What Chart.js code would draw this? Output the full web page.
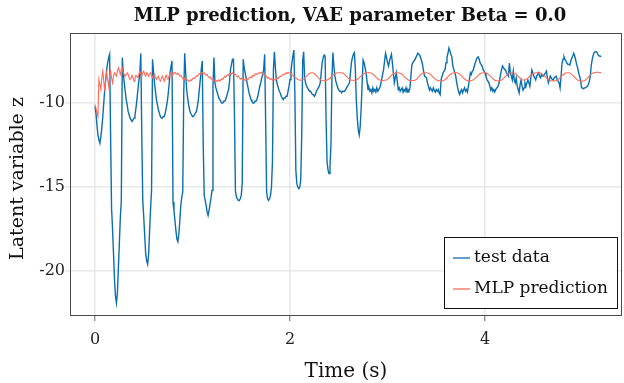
<!DOCTYPE html>
<html>
<head>
<meta charset="utf-8">
<script src="https://cdn.jsdelivr.net/npm/chart.js@4"></script>
<style>
html,body{margin:0;padding:0;background:#fff;}
#wrap{width:624px;height:383px;position:relative;}
</style>
</head>
<body>
<div id="wrap"><canvas id="c" width="624" height="383"></canvas></div>
<script>
// ---- data (sampled every 0.01 s) ----
const dt = 0.01;
const seriesLabels = ["test data", "MLP prediction"];
const xTicks = [0, 2, 4];
const yTicks = [-20, -15, -10];
const titleText = "MLP prediction, VAE parameter Beta = 0.0";
const xLabel = "Time (s)";
const yLabel = "Latent variable z";

const testData = [
-10.2,-10.6,-11.3,-11.9,-12.2,-12.4,-12.0,-11.5,-10.8,-10.0,
-9.2,-8.6,-8.0,-7.6,-7.3,-7.1,-12.0,-16.3,-17.5,-19.0,
-20.5,-21.5,-21.9,-21.3,-19.8,-18.3,-16.8,-15.8,-7.3,-8.2,
-8.8,-9.3,-9.8,-10.1,-10.5,-10.7,-10.9,-11.0,-11.1,-11.0,
-10.9,-10.7,-10.3,-9.8,-9.2,-8.7,-8.2,-7.05,-12.0,-15.8,
-16.8,-17.9,-19.0,-19.4,-19.6,-19.0,-17.6,-16.3,-15.2,-7.4,
-8.1,-8.8,-9.3,-9.8,-10.1,-10.4,-10.6,-10.8,-10.9,-10.9,
-10.8,-10.8,-10.6,-10.3,-10.0,-9.5,-8.9,-8.2,-7.8,-7.5,
-15.9,-16.4,-17.0,-17.6,-18.1,-18.25,-17.8,-17.0,-16.1,-15.6,
-15.3,-9.5,-7.04,-8.2,-9.2,-9.7,-10.1,-10.4,-10.6,-10.7,
-10.8,-10.8,-10.7,-10.6,-10.5,-10.2,-9.8,-9.2,-8.6,-8.0,
-7.5,-12.5,-15.5,-15.8,-16.1,-16.5,-16.7,-16.4,-16.0,-15.65,
-15.2,-9.0,-7.3,-8.8,-9.1,-9.3,-9.5,-9.7,-9.8,-9.9,
-10.0,-10.0,-9.9,-9.9,-9.8,-9.6,-9.4,-9.2,-8.7,-8.0,
-7.7,-7.4,-7.4,-10.5,-15.2,-15.6,-15.7,-15.8,-15.8,-15.7,
-15.5,-14.8,-7.4,-7.9,-8.2,-8.5,-8.8,-9.1,-9.4,-9.6,
-9.8,-9.9,-10.0,-10.0,-9.9,-9.9,-9.8,-9.6,-9.3,-9.0,
-8.8,-8.5,-8.3,-8.0,-7.1,-11.0,-15.3,-15.7,-15.8,-15.7,
-15.5,-15.0,-13.5,-8.0,-6.95,-7.9,-8.6,-8.9,-9.1,-9.3,
-9.4,-9.6,-9.7,-9.8,-9.7,-9.7,-9.6,-9.6,-9.3,-9.0,
-8.6,-8.1,-7.6,-7.2,-6.85,-9.5,-14.0,-14.8,-15.0,-15.1,
-15.0,-14.6,-12.0,-7.5,-6.95,-8.5,-8.8,-9.0,-9.1,-9.2,
-9.3,-9.3,-9.4,-9.5,-9.5,-9.6,-9.5,-9.3,-9.2,-9.1,
-9.0,-8.8,-8.2,-7.6,-7.3,-7.14,-7.2,-11.0,-13.5,-14.0,
-14.2,-13.8,-12.5,-8.5,-7.0,-7.8,-8.4,-8.7,-8.9,-9.1,
-9.2,-9.3,-9.3,-9.4,-9.3,-9.3,-9.3,-9.2,-9.1,-9.0,
-8.9,-8.8,-8.2,-7.6,-7.3,-7.1,-7.0,-8.0,-9.8,-10.9,
-11.6,-11.9,-11.4,-10.3,-8.8,-7.44,-7.6,-7.9,-8.2,-8.7,
-9.2,-9.1,-9.3,-9.2,-9.4,-9.1,-9.3,-9.2,-9.35,-9.1,
-9.3,-9.2,-9.1,-8.9,-8.6,-8.3,-8.0,-7.5,-7.04,-7.3,
-7.6,-7.8,-7.5,-7.3,-7.1,-7.6,-8.2,-8.8,-8.5,-8.2,
-8.7,-9.2,-9.1,-9.3,-9.2,-9.1,-9.35,-9.2,-9.3,-9.1,
-9.35,-9.2,-9.3,-9.1,-8.4,-7.74,-7.6,-7.5,-7.44,-7.3,
-7.2,-7.04,-7.1,-7.14,-7.3,-7.5,-7.74,-8.1,-8.4,-8.45,
-8.5,-8.8,-9.0,-9.23,-9.1,-9.2,-9.3,-9.1,-9.25,-9.35,
-9.2,-9.3,-9.2,-9.4,-9.5,-8.6,-8.4,-8.2,-8.1,-8.0,
-7.6,-7.3,-7.04,-6.73,-6.9,-7.1,-7.25,-7.8,-8.0,-8.2,
-8.4,-8.8,-9.1,-9.35,-9.5,-9.3,-9.2,-9.4,-9.23,-9.1,
-9.3,-9.2,-9.35,-9.0,-8.6,-8.2,-8.3,-8.1,-8.04,-7.8,
-7.6,-7.44,-7.3,-7.25,-7.4,-7.62,-7.7,-7.8,-8.0,-8.1,
-8.2,-8.4,-8.6,-8.7,-8.8,-9.0,-9.23,-9.1,-9.3,-9.2,
-9.35,-9.2,-9.1,-9.05,-8.9,-8.63,-8.3,-8.0,-7.8,-7.9,
-8.0,-8.04,-8.2,-8.3,-8.4,-7.62,-8.2,-8.4,-8.63,-8.1,
-8.63,-8.8,-8.5,-9.0,-9.2,-9.4,-8.9,-8.63,-9.0,-9.23,
-9.1,-8.8,-9.0,-8.8,-8.63,-8.8,-9.0,-8.5,-8.04,-8.2,
-8.4,-8.5,-8.63,-8.4,-8.3,-8.2,-8.4,-8.5,-8.3,-8.4,
-8.4,-8.3,-8.2,-8.1,-8.5,-8.8,-8.6,-8.4,-8.5,-8.6,
-8.63,-8.5,-8.45,-8.4,-8.6,-8.7,-8.8,-9.1,-8.4,-7.62,
-7.4,-7.25,-7.4,-7.5,-7.62,-7.7,-7.7,-7.74,-7.5,-7.32,
-7.2,-7.04,-7.2,-7.44,-7.7,-7.9,-8.2,-8.4,-8.63,-9.1,
-9.1,-9.15,-9.1,-9.1,-9.05,-9.0,-8.9,-8.7,-8.4,-7.74,
-7.4,-7.14,-7.0,-6.95,-6.95,-7.0,-7.14,-7.2,-7.2,-7.25
];

const mlpPrediction = [
-10.1,-10.3,-10.6,-10.8,-8.6,-8.9,-9.2,-8.5,-8.1,-8.7,
-9.3,-8.6,-8.2,-8.6,-9.0,-8.4,-8.1,-8.5,-8.8,-8.4,
-8.2,-8.3,-8.4,-8.1,-7.9,-8.1,-8.3,-8.0,-7.9,-8.2,
-8.3,-8.4,-8.3,-8.2,-8.3,-8.5,-8.6,-8.5,-8.35,-8.5,
-8.7,-8.55,-8.35,-8.45,-8.5,-8.3,-8.1,-8.25,-8.4,-8.2,
-8.1,-8.3,-8.4,-8.2,-8.25,-8.4,-8.3,-8.2,-8.35,-8.5,
-8.4,-8.3,-8.45,-8.6,-8.5,-8.4,-8.6,-8.7,-8.55,-8.4,
-8.55,-8.7,-8.5,-8.35,-8.5,-8.6,-8.4,-8.2,-8.3,-8.4,
-8.25,-8.2,-8.18,-8.25,-8.3,-8.22,-8.3,-8.4,-8.35,-8.45,
-8.55,-8.48,-8.55,-8.65,-8.58,-8.62,-8.7,-8.7,-8.62,-8.66,
-8.58,-8.5,-8.55,-8.45,-8.38,-8.42,-8.32,-8.25,-8.3,-8.2,
-8.18,-8.25,-8.2,-8.3,-8.35,-8.3,-8.42,-8.5,-8.45,-8.55,
-8.62,-8.58,-8.65,-8.7,-8.65,-8.72,-8.68,-8.62,-8.7,-8.62,
-8.55,-8.6,-8.5,-8.42,-8.48,-8.38,-8.3,-8.35,-8.25,-8.22,
-8.28,-8.2,-8.25,-8.3,-8.28,-8.38,-8.45,-8.4,-8.5,-8.58,
-8.52,-8.6,-8.65,-8.6,-8.66,-8.62,-8.55,-8.6,-8.5,-8.45,
-8.5,-8.4,-8.35,-8.4,-8.3,-8.25,-8.3,-8.22,-8.2,-8.25,
-8.18,-8.2,-8.27,-8.3,-8.38,-8.35,-8.45,-8.52,-8.48,-8.58,
-8.6,-8.55,-8.65,-8.63,-8.6,-8.65,-8.55,-8.5,-8.55,-8.45,
-8.4,-8.42,-8.32,-8.28,-8.32,-8.25,-8.2,-8.24,-8.18,-8.22,
-8.2,-8.26,-8.3,-8.36,-8.42,-8.46,-8.5,-8.56,-8.6,-8.62,
-8.64,-8.65,-8.65,-8.62,-8.58,-8.52,-8.46,-8.4,-8.34,-8.28,
-8.24,-8.21,-8.2,-8.2,-8.22,-8.26,-8.31,-8.37,-8.43,-8.5,
-8.55,-8.6,-8.64,-8.66,-8.68,-8.68,-8.67,-8.66,-8.63,-8.6,
-8.56,-8.51,-8.46,-8.4,-8.35,-8.3,-8.26,-8.23,-8.21,-8.2,
-8.2,-8.2,-8.2,-8.2,-8.22,-8.25,-8.3,-8.36,-8.42,-8.48,
-8.53,-8.58,-8.62,-8.64,-8.65,-8.66,-8.65,-8.65,-8.63,-8.6,
-8.56,-8.51,-8.45,-8.39,-8.33,-8.28,-8.24,-8.21,-8.2,-8.2,
-8.2,-8.19,-8.2,-8.21,-8.24,-8.28,-8.33,-8.39,-8.45,-8.51,
-8.56,-8.6,-8.63,-8.65,-8.66,-8.66,-8.66,-8.65,-8.65,-8.62,
-8.58,-8.53,-8.47,-8.41,-8.35,-8.3,-8.26,-8.23,-8.21,-8.2,
-8.2,-8.2,-8.21,-8.23,-8.26,-8.3,-8.35,-8.41,-8.47,-8.52,
-8.57,-8.61,-8.64,-8.66,-8.67,-8.67,-8.66,-8.66,-8.65,-8.62,
-8.57,-8.51,-8.44,-8.37,-8.31,-8.26,-8.23,-8.21,-8.2,-8.2,
-8.2,-8.21,-8.23,-8.26,-8.3,-8.35,-8.41,-8.47,-8.53,-8.58,
-8.62,-8.65,-8.67,-8.68,-8.68,-8.68,-8.68,-8.67,-8.64,-8.6,
-8.55,-8.49,-8.43,-8.37,-8.32,-8.27,-8.23,-8.21,-8.2,-8.19,
-8.19,-8.2,-8.21,-8.24,-8.28,-8.33,-8.39,-8.46,-8.52,-8.57,
-8.62,-8.65,-8.67,-8.68,-8.68,-8.68,-8.67,-8.65,-8.62,-8.58,
-8.53,-8.47,-8.41,-8.35,-8.3,-8.26,-8.23,-8.21,-8.2,-8.2,
-8.2,-8.21,-8.23,-8.27,-8.32,-8.38,-8.44,-8.5,-8.56,-8.6,
-8.64,-8.67,-8.68,-8.68,-8.68,-8.68,-8.66,-8.63,-8.59,-8.54,
-8.48,-8.42,-8.36,-8.31,-8.26,-8.23,-8.21,-8.2,-8.2,-8.2,
-8.22,-8.25,-8.3,-8.36,-8.42,-8.48,-8.54,-8.59,-8.62,-8.63,
-8.63,-8.62,-8.6,-8.56,-8.51,-8.46,-8.4,-8.35,-8.3,-8.26,
-8.23,-8.21,-8.2,-8.2,-8.19,-8.19,-8.2,-8.21,-8.24,-8.28,
-8.33,-8.39,-8.45,-8.51,-8.57,-8.61,-8.65,-8.67,-8.68,-8.69,
-8.69,-8.69,-8.68,-8.67,-8.64,-8.6,-8.55,-8.49,-8.43,-8.37,
-8.32,-8.27,-8.23,-8.21,-8.2,-8.2,-8.2,-8.22,-8.25,-8.3,
-8.36,-8.42,-8.48,-8.54,-8.59,-8.63,-8.66,-8.68,-8.7,-8.7,
-8.7,-8.69,-8.67,-8.63,-8.58,-8.52,-8.46,-8.39,-8.33,-8.28,
-8.24,-8.21,-8.19,-8.18,-8.17,-8.17,-8.17,-8.18,-8.19,-8.2
];

// ---- styling ----
const BLUE = "#0a6fb0";
const RED = "#ff6b57";
const FONT = "'DejaVu Serif', 'Liberation Serif', serif";

const toPts = arr => arr.map((v, i) => ({x: +(i * dt).toFixed(2), y: v}));

const decor = {
  id: 'decor',
  afterDraw(chart) {
    const ctx = chart.ctx, a = chart.chartArea;
    ctx.save();
    // frame
    ctx.strokeStyle = '#4a4a4a';
    ctx.lineWidth = 1;
    ctx.strokeRect(Math.round(a.left) + 0.5, Math.round(a.top) + 0.5, Math.round(a.right - a.left) - 1, Math.round(a.bottom - a.top) - 1);
    // title
    ctx.fillStyle = '#111';
    ctx.textAlign = 'center';
    ctx.textBaseline = 'middle';
    ctx.font = "bold 18px " + FONT;
    ctx.fillText(titleText, (a.left + a.right) / 2 + 4, 16);
    // axis titles
    ctx.font = "20px " + FONT;
    ctx.fillText(xLabel, (a.left + a.right) / 2, 372);
    ctx.font = "19px " + FONT;
    ctx.save();
    ctx.translate(18, (a.top + a.bottom) / 2 + 4);
    ctx.rotate(-Math.PI / 2);
    ctx.fillText(yLabel, 0, 0);
    ctx.restore();
    // legend
    const bx = 444.5, by = 237.5, bw = 173, bh = 71;
    ctx.fillStyle = '#fff';
    ctx.fillRect(bx, by, bw, bh);
    ctx.strokeStyle = '#111';
    ctx.lineWidth = 1;
    ctx.strokeRect(bx, by, bw, bh);
    const rows = [[seriesLabels[0], BLUE, 258], [seriesLabels[1], RED, 289]];
    ctx.font = "17px " + FONT;
    ctx.textAlign = 'left';
    rows.forEach(([t, c, y]) => {
      ctx.strokeStyle = c;
      ctx.lineWidth = 1.3;
      ctx.beginPath(); ctx.moveTo(453, y); ctx.lineTo(470, y); ctx.stroke();
      ctx.fillStyle = '#111';
      ctx.fillText(t, 474, y);
    });
    ctx.restore();
  }
};

new Chart(document.getElementById('c'), {
  type: 'line',
  data: {
    datasets: [
      {label: seriesLabels[0], data: toPts(testData), borderColor: BLUE, borderWidth: 1.4, pointRadius: 0, tension: 0, order: 2},
      {label: seriesLabels[1], data: toPts(mlpPrediction), borderColor: RED, borderWidth: 1.1, pointRadius: 0, tension: 0, order: 1}
    ]
  },
  options: {
    responsive: false,
    animation: false,
    events: [],
    layout: {padding: {top: 33, right: 2, left: 0, bottom: 0}},
    plugins: {legend: {display: false}, title: {display: false}, tooltip: {enabled: false}},
    scales: {
      x: {
        type: 'linear',
        min: -0.2564, max: 5.405,
        afterFit(s) { s.height = 67; },
        afterBuildTicks(s) { s.ticks = xTicks.map(v => ({value: v})); },
        grid: {color: '#e8e8e8', lineWidth: 1.6, tickColor: '#666', tickLength: 5, tickWidth: 1},
        border: {display: false},
        ticks: {color: '#222', font: {family: FONT, size: 16}, padding: 9, maxRotation: 0}
      },
      y: {
        type: 'linear',
        min: -22.68, max: -5.833,
        afterFit(s) { s.width = 70; },
        afterBuildTicks(s) { s.ticks = yTicks.map(v => ({value: v})); },
        grid: {color: '#e8e8e8', lineWidth: 1.6, tickColor: '#e8e8e8', tickLength: 5},
        border: {display: false},
        ticks: {color: '#222', font: {family: FONT, size: 16}, padding: 0}
      }
    }
  },
  plugins: [decor]
});
</script>
</body>
</html>
